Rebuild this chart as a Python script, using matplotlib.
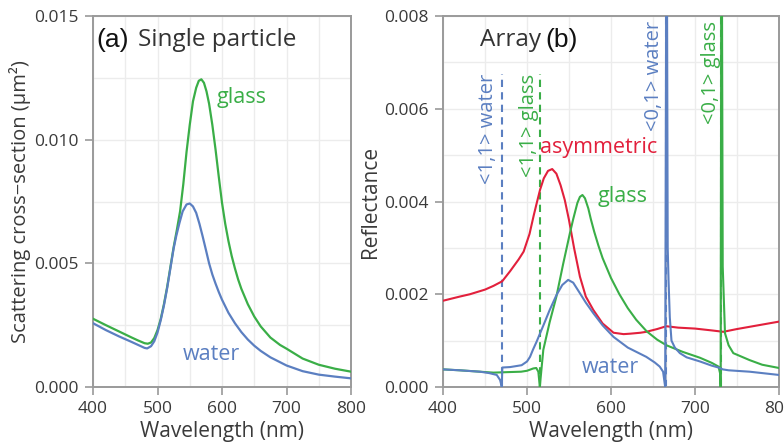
import matplotlib
matplotlib.use("Agg")
import matplotlib.pyplot as plt
import numpy as np
from matplotlib.ticker import MultipleLocator

plt.rcParams["font.family"] = ["Open Sans", "DejaVu Sans"]

GREEN = "#3aae47"
BLUE = "#5b7fc1"
RED = "#e2203c"
SPINE = "#9a9a9a"
TICKTXT = "#3a3a3a"
GRID = "#ececec"

# (a) single particle scattering cross-section, um^2 (values x 1e-3)
wl_a_glass = [400, 420, 440, 460, 470, 480, 485, 490, 495, 500, 505, 510, 515,
              520, 525, 530, 535, 540, 545, 550, 555, 560, 564, 568, 572, 576,
              580, 585, 590, 595, 600, 605, 610, 615, 620, 625, 630, 640, 650,
              660, 675, 690, 700, 725, 750, 775, 800]
sc_a_glass = [2.76, 2.5, 2.25, 2.0, 1.88, 1.77, 1.75, 1.8, 1.98, 2.3, 2.75, 3.35,
              4.05, 4.85, 5.65, 6.35, 7.1, 8.2, 9.5, 10.6, 11.55, 12.1, 12.38,
              12.44, 12.3, 11.95, 11.45, 10.6, 9.6, 8.5, 7.45, 6.6, 5.9, 5.3,
              4.8, 4.35, 3.97, 3.35, 2.85, 2.45, 2.0, 1.7, 1.55, 1.15, 0.9,
              0.74, 0.62]
wl_a_water = [400, 420, 440, 460, 470, 480, 484, 490, 495, 500, 505, 510, 515,
              520, 525, 529, 534, 539, 545, 550, 555, 560, 565, 570, 575, 580,
              585, 590, 595, 600, 610, 620, 630, 640, 650, 660, 675, 700, 725,
              750, 775, 800]
sc_a_water = [2.58, 2.3, 2.05, 1.82, 1.7, 1.58, 1.56, 1.65, 1.85, 2.2, 2.7, 3.3,
              4.0, 4.8, 5.6, 6.1, 6.63, 7.1, 7.38, 7.42, 7.3, 7.04, 6.6, 6.09,
              5.55, 5.0, 4.55, 4.18, 3.84, 3.53, 3.0, 2.58, 2.22, 1.92, 1.67,
              1.46, 1.2, 0.87, 0.64, 0.5, 0.42, 0.35]

# (b) array reflectance (values x 1e-3)
wl_b_asym = [400, 420, 432, 450, 460, 470.5, 480, 490, 496, 503, 508, 511.5,
             515.5, 520, 525, 530, 535, 540, 545, 550, 556, 563, 570, 579, 590,
             603, 615, 623, 635, 642, 655, 664, 666, 680, 700, 720, 733.7, 750,
             775, 800]
rf_b_asym = [1.86, 1.95, 2.0, 2.1, 2.18, 2.28, 2.5, 2.75, 2.92, 3.3, 3.7, 3.96,
             4.25, 4.5, 4.66, 4.7, 4.6, 4.35, 4.03, 3.6, 3.0, 2.38, 1.95, 1.66,
             1.37, 1.17, 1.14, 1.15, 1.17, 1.19, 1.25, 1.3, 1.31, 1.28, 1.26,
             1.22, 1.19, 1.25, 1.33, 1.41]
wl_b_water = [400, 420, 444, 455, 464, 468, 470, 470.6, 480, 493.6, 500, 503.6,
              507, 511.5, 520, 527, 535, 542, 549, 555, 562, 570, 579, 590, 603,
              620, 642, 652, 658, 662, 664.5, 666.2, 667.5, 668.5, 670, 672, 676,
              682, 690, 706, 720, 728, 733, 740, 765, 800]
rf_b_water = [0.38, 0.36, 0.33, 0.3, 0.26, 0.15, 0.0, 0.42, 0.43, 0.47, 0.55,
              0.65, 0.8, 0.98, 1.35, 1.66, 1.98, 2.2, 2.31, 2.25, 2.05, 1.82,
              1.59, 1.33, 1.08, 0.85, 0.65, 0.53, 0.44, 0.33, 0.0, 12.0, 3.0,
              2.3, 1.5, 1.0, 0.85, 0.73, 0.64, 0.55, 0.46, 0.42, 0.38, 0.36,
              0.33, 0.26]
wl_b_glass = [400, 420, 444, 460, 475.8, 493, 500, 507.5, 511, 513.5, 515.3,
              516, 519.4, 527, 535, 543, 551, 555, 560, 563, 566, 569, 573, 576,
              580, 585, 590, 600, 610, 620, 630, 642.5, 655, 666, 685, 706, 720,
              728, 729.8, 730.5, 731.6, 733, 735.7, 740, 745.6, 765, 780, 800]
rf_b_glass = [0.38, 0.36, 0.33, 0.31, 0.32, 0.33, 0.35, 0.4, 0.41, 0.33, 0.0,
              0.15, 0.8, 1.4, 1.95, 2.65, 3.31, 3.62, 3.97, 4.1, 4.14, 4.07,
              3.85, 3.62, 3.35, 3.05, 2.78, 2.35, 2.0, 1.7, 1.45, 1.2, 1.02,
              0.9, 0.76, 0.63, 0.52, 0.44, 0.3, 0.0, 12.0, 2.6, 1.16, 0.9, 0.73,
              0.58, 0.48, 0.41]

# diffraction orders: wavelength, top of dashed line, colour, label
mode_wl = [470.4, 515.5, 665.0, 730.6]
mode_top = [6.75, 6.75, 8.0, 8.0]
mode_color = [BLUE, GREEN, BLUE, GREEN]
mode_label = ["<1,1> water", "<1,1> glass", "<0,1> water", "<0,1> glass"]
mode_text_x = [453, 502.5, 650.6, 718.5]
mode_gap = [None, None, "#c8c8c8", "#c8c8c8"]


def style_axes(ax, ymax, ystep, yminor):
    ax.set_xlim(400, 800)
    ax.set_ylim(0, ymax)
    ax.xaxis.set_major_locator(MultipleLocator(100))
    ax.xaxis.set_minor_locator(MultipleLocator(50))
    ax.yaxis.set_major_locator(MultipleLocator(ystep))
    ax.yaxis.set_minor_locator(MultipleLocator(yminor))
    ax.yaxis.set_major_formatter(plt.FuncFormatter(lambda v, p: f"{v:.3f}"))
    ax.grid(which="both", color=GRID, lw=1.0, zorder=0)
    ax.set_axisbelow(True)
    for s in ax.spines.values():
        s.set_color(SPINE)
        s.set_linewidth(1.4)
    ax.tick_params(which="major", direction="out", length=6, width=1.2,
                   color=SPINE, labelcolor=TICKTXT, labelsize=12.5, pad=4)
    ax.tick_params(which="minor", length=0)
    ax.set_xlabel("Wavelength (nm)", fontsize=15, color=TICKTXT, labelpad=3)


fig = plt.figure(figsize=(7.84, 4.45), dpi=100)
ax1 = fig.add_axes([93 / 784, 58 / 445, 258 / 784, 371 / 445])
ax2 = fig.add_axes([443 / 784, 58 / 445, 336 / 784, 371 / 445])

# panel (a)
style_axes(ax1, 0.015, 0.005, 0.0025)
ax1.plot(wl_a_glass, np.array(sc_a_glass) * 1e-3, color=GREEN, lw=1.6, zorder=3)
ax1.plot(wl_a_water, np.array(sc_a_water) * 1e-3, color=BLUE, lw=1.6, zorder=3)
ax1.set_ylabel("Scattering cross\u2212section (\u03bcm\u00b2)", fontsize=14.5,
               color=TICKTXT)
ax1.yaxis.set_label_coords(-0.24, 0.5)
ax1.text(0.015, 0.935, "(a)", transform=ax1.transAxes, fontsize=19,
         family=["Liberation Sans", "DejaVu Sans"], color="#111111", va="center")
ax1.text(0.174, 0.935, "Single particle", transform=ax1.transAxes,
         fontsize=17.5, color="#333333", va="center")
ax1.text(592, 0.0115, "glass", color=GREEN, fontsize=15.5, va="baseline")
ax1.text(539.5, 0.00109, "water", color=BLUE, fontsize=15.5, va="baseline")

# panel (b)
style_axes(ax2, 0.008, 0.002, 0.001)
for x, top, c, gap in zip(mode_wl, mode_top, mode_color, mode_gap):
    ax2.plot([x, x], [0, top * 1e-3], color=c, lw=1.5, dashes=(3.5, 2.5),
             gapcolor=gap, zorder=2)
ax2.plot(wl_b_asym, np.array(rf_b_asym) * 1e-3, color=RED, lw=1.5, zorder=3)
ax2.plot(wl_b_glass, np.array(rf_b_glass) * 1e-3, color=GREEN, lw=1.5, zorder=3)
ax2.plot(wl_b_water, np.array(rf_b_water) * 1e-3, color=BLUE, lw=1.5, zorder=3)
for x, top, c, lab in zip(mode_text_x, mode_top, mode_color, mode_label):
    ax2.text(x, min(top, 7.9) * 1e-3, lab, color=c, fontsize=14.5, rotation=90,
             ha="center", va="top")
ax2.set_ylabel("Reflectance", fontsize=15, color=TICKTXT)
ax2.yaxis.set_label_coords(-0.185, 0.5)
ax2.text(0.11, 0.935, "Array", transform=ax2.transAxes, fontsize=17.5,
         color="#333333", va="center")
ax2.text(0.305, 0.935, "(b)", transform=ax2.transAxes, fontsize=19,
         family=["Liberation Sans", "DejaVu Sans"], color="#111111", va="center")
ax2.text(516, 0.00504, "asymmetric", color=RED, fontsize=15.5, va="baseline")
ax2.text(584.5, 0.00399, "glass", color=GREEN, fontsize=15.5, va="baseline")
ax2.text(565.5, 0.00031, "water", color=BLUE, fontsize=15.5, va="baseline")

fig.savefig("out.png", dpi=100)
